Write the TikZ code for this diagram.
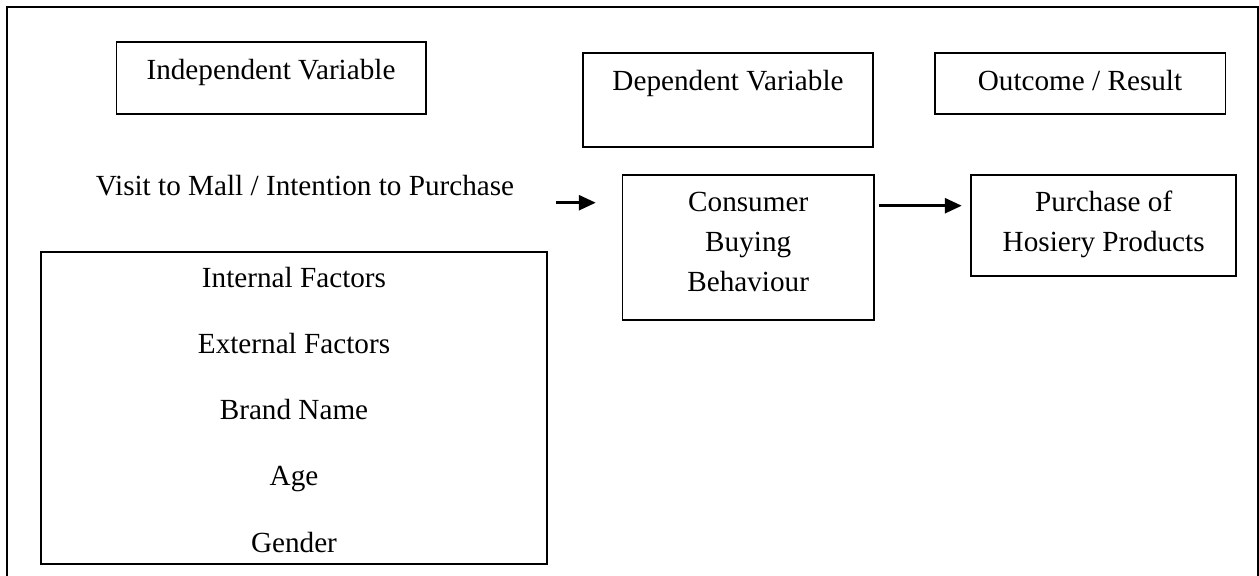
\documentclass[tikz,border=0pt]{standalone}
\usepackage{fontspec}
\setmainfont{Liberation Serif}
\usetikzlibrary{arrows.meta,positioning}
\tikzstyle{varbox} = [draw,line width=0.9pt,inner sep=0]
\tikzstyle{label} = [inner sep=0,text height=10.2pt,text depth=3.65pt,font=\fontsize{14.6}{19.6}\selectfont]
\tikzstyle{flow} = [-{Triangle[length=8.5pt,width=7.5pt]},line width=1.4pt]

\begin{document}
\begin{tikzpicture}[x=0.5pt,y=-0.5pt]
      \useasboundingbox (0,0) rectangle (1259,575);
      \draw[line width=1pt] (7.2,7.3) rectangle (1258.3,590);
      % headings
      \node[varbox,minimum width=154.75pt,minimum height=36.15pt] (indep) at (271.2,77.9) {};
      \node[label,anchor=base] (indeptxt) at (271,79) {Independent Variable};
      \node[varbox,minimum width=145.35pt,minimum height=46.7pt] (dep) at (728,100) {};
      \node[label,anchor=base] (deptxt) at (728,90) {Dependent Variable};
      \node[varbox,minimum width=145.4pt,minimum height=30.2pt] (outcome) at (1080.1,83.5) {};
      \node[label,anchor=base] (outcometxt) at (1080,90) {Outcome / Result};
      % independent side
      \node[label,anchor=base] (visit) at (305,195) {Visit to Mall / Intention to Purchase};
      \node[varbox,minimum width=253.1pt,minimum height=156.3pt] (factors) at (294.1,408) {};
      \node[label,anchor=base] (f1) at (294,287) {Internal Factors};
      \node[label,below=18.9pt of f1] (f2) {External Factors};
      \node[label,below=18.9pt of f2] (f3) {Brand Name};
      \node[label,below=18.9pt of f3] (f4) {Age};
      \node[label,below=18.9pt of f4] (f5) {Gender};
      % dependent and outcome
      \node[varbox,minimum width=125.75pt,minimum height=72.5pt] (consumer) at (748.2,247.5) {};
      \node[label,anchor=base] (c1) at (748.2,211.7) {Consumer};
      \node[label,below=5.6pt of c1] (c2) {Buying};
      \node[label,below=5.6pt of c2] (c3) {Behaviour};
      \node[varbox,minimum width=132.65pt,minimum height=50.35pt] (purchase) at (1103.7,225.3) {};
      \node[label,anchor=base] (p1) at (1103.7,211.7) {Purchase of};
      \node[label,below=5.4pt of p1] (p2) {Hosiery Products};
      % arrows
      \coordinate (a1) at (0,202.7);
      \coordinate (a2) at (0,205.7);
      \draw[flow,shorten <=20.8pt,shorten >=12.9pt] (visit.east |- a1) -- (consumer.west |- a1);
      \draw[flow,shorten <=2pt,shorten >=4.2pt] (consumer.east |- a2) -- (purchase.west |- a2);
    \end{tikzpicture}
\end{document}
